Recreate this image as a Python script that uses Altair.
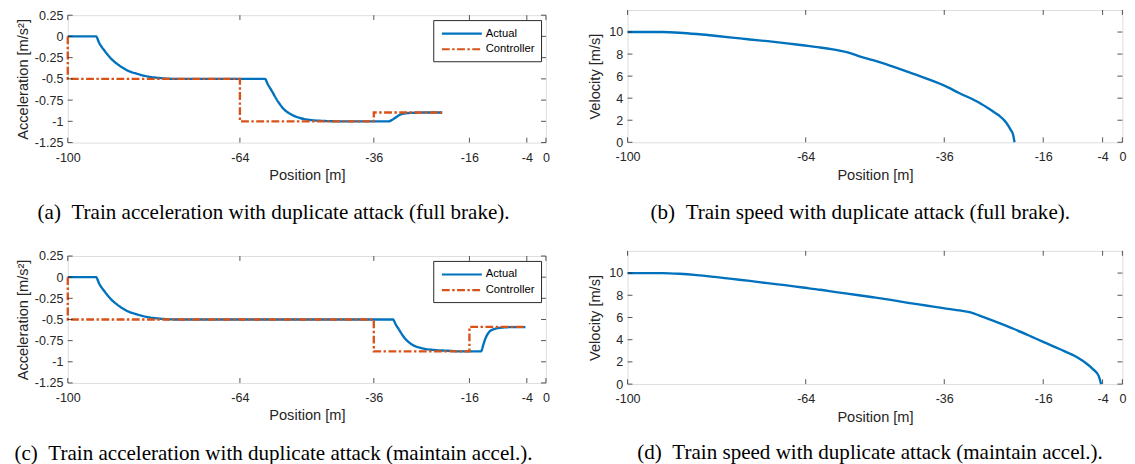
import altair as alt
import pandas as pd

FONT = "Liberation Sans"
SERIF = "Liberation Serif"
BLUE = "#0072BD"
ORANGE = "#D95319"
AX = "#262626"

SERIES = ["Actual", "Controller"]
X_TICKS = [-100, -64, -36, -16, -4, 0]
ACC_TICKS = [-1.25, -1, -0.75, -0.5, -0.25, 0, 0.25]
VEL_TICKS = [0, 2, 4, 6, 8, 10]

# (a) full brake - acceleration
A_ACT_X = [-100, -94.1, -93.4, -92.35, -90.98, -89.28, -87.56, -85.51, -83.46, -80.74,
           -77.32, -72, -58.75, -58.2, -57.5, -56.1, -54.8, -53.4, -51.4, -49.3, -46.6,
           -43, -32.93, -32.24, -31.56, -30.2, -28.1, -25, -21.7]
A_ACT_Y = [0, 0, -0.08, -0.165, -0.26, -0.34, -0.40, -0.44, -0.47, -0.49,
           -0.50, -0.50, -0.50, -0.56, -0.626, -0.761, -0.857, -0.915, -0.961, -0.984, -0.995,
           -1.0, -1.0, -0.985, -0.96, -0.915, -0.90, -0.896, -0.896]
A_CTL_X = [-100, -100, -64, -64, -36, -36, -21.7]
A_CTL_Y = [0, -0.5, -0.5, -1.0, -1.0, -0.896, -0.896]

# (b) full brake - velocity
B_VEL_X = [-100, -93, -89.5, -86, -82.4, -78.9, -75.3, -71.7, -68.2, -64.6, -61.1, -58.5,
           -57.4, -55.5, -52.8, -50.4, -46.5, -43.3, -39.7, -36.2, -33, -29, -26.5, -25,
           -23.5, -22.6, -22.1, -21.8]
B_VEL_Y = [10, 10, 9.94, 9.82, 9.66, 9.5, 9.32, 9.17, 9.0, 8.8, 8.6, 8.42,
           8.33, 8.15, 7.75, 7.45, 6.88, 6.38, 5.8, 5.18, 4.47, 3.6, 2.9, 2.45,
           1.8, 1.15, 0.7, 0]

# (c) maintain accel - acceleration
C_ACT_X = [-100, -94.1, -93.4, -92.35, -90.98, -89.28, -87.56, -85.51, -83.46, -80.74,
           -77.32, -72, -32.0, -31.4, -30.88, -29.51, -28.13, -26.09, -23.36, -20.63, -18,
           -13.6, -13.1, -12.77, -12.1, -11.07, -9.02, -7, -4.3]
C_ACT_Y = [0, 0, -0.08, -0.165, -0.26, -0.34, -0.40, -0.44, -0.47, -0.49,
           -0.50, -0.50, -0.50, -0.56, -0.606, -0.722, -0.792, -0.838, -0.861, -0.869, -0.877,
           -0.877, -0.80, -0.742, -0.664, -0.618, -0.595, -0.59, -0.59]
C_CTL_X = [-100, -100, -36, -36, -16, -16, -4.3]
C_CTL_Y = [0, -0.5, -0.5, -0.877, -0.877, -0.587, -0.587]

# (d) maintain accel - velocity
D_VEL_X = [-100, -93, -89.5, -86, -82.4, -78.9, -75.3, -71.7, -68.2, -64.6, -61.1, -57.5,
           -54.0, -50.4, -46.8, -43.3, -39.7, -36.2, -32.6, -30.5, -29.0, -25.5, -21.9,
           -18.4, -15.9, -12.7, -9.8, -7.7, -5.9, -4.8, -4.3]
D_VEL_Y = [10, 10, 9.94, 9.82, 9.65, 9.47, 9.29, 9.09, 8.91, 8.70, 8.50, 8.26,
           8.05, 7.82, 7.58, 7.32, 7.08, 6.84, 6.61, 6.43, 6.19, 5.60, 4.96,
           4.28, 3.78, 3.16, 2.57, 2.0, 1.33, 0.74, 0]

CAP_A = "(a)\u2002Train acceleration with duplicate attack (full brake)."
CAP_B = "(b)\u2002Train speed with duplicate attack (full brake)."
CAP_C = "(c)\u2002Train acceleration with duplicate attack (maintain accel.)."
CAP_D = "(d)\u2002Train speed with duplicate attack (maintain accel.)."

LABEL_FS = 12.8
TITLE_FS = 14.9


def x_enc():
    return alt.X("x:Q", scale=alt.Scale(domain=[-100, 0], nice=False, zero=False),
                 axis=alt.Axis(values=X_TICKS, tickCount=50, title="Position [m]",
                               labelExpr="'' + datum.value", grid=False, ticks=False,
                               domain=False, labelPadding=9, titlePadding=4,
                               labelFlush=False, labelOverlap=False,
                               labelFont=FONT, labelFontSize=LABEL_FS, labelColor=AX,
                               titleFont=FONT, titleFontSize=TITLE_FS, titleColor=AX,
                               titleFontWeight="normal"))


def y_enc(domain, ticks, title, tpad):
    return alt.Y("y:Q", scale=alt.Scale(domain=domain, nice=False, zero=False),
                 axis=alt.Axis(values=ticks, tickCount=50, title=title,
                               labelExpr="'' + datum.value", grid=False, ticks=False,
                               domain=False, labelPadding=5, titlePadding=tpad,
                               labelFlush=False, labelOverlap=False,
                               labelFont=FONT, labelFontSize=LABEL_FS, labelColor=AX,
                               titleFont=FONT, titleFontSize=TITLE_FS, titleColor=AX,
                               titleFontWeight="normal"))


def inner_ticks(W, H, yticks):
    xt = pd.DataFrame({"x": X_TICKS})
    yt = pd.DataFrame({"y": yticks})
    st = dict(color=AX, strokeWidth=0.8)
    return [
        alt.Chart(xt).mark_rule(**st).encode(x="x:Q", y=alt.value(H), y2=alt.value(H - 5)),
        alt.Chart(xt).mark_rule(**st).encode(x="x:Q", y=alt.value(0), y2=alt.value(5)),
        alt.Chart(yt).mark_rule(**st).encode(y="y:Q", x=alt.value(0), x2=alt.value(5)),
        alt.Chart(yt).mark_rule(**st).encode(y="y:Q", x=alt.value(W), x2=alt.value(W - 5)),
    ]


def caption(text, dx, offset):
    return alt.TitleParams(text=text, orient="bottom", anchor="middle", frame="group",
                           dx=dx, offset=offset, font=SERIF, fontSize=21.5,
                           fontWeight="normal", color="black")


LEG = alt.Legend(title=None, orient="top-right", offset=5,
                 symbolType="M-3.4,0L3.4,0", symbolSize=144, symbolOffset=15.4,
                 symbolStrokeWidth=2.2, labelFont=FONT,
                 labelFontSize=11.5, labelColor="black", strokeColor=AX,
                 fillColor="white", padding=6.3, rowPadding=3, labelOffset=16.8,
                 cornerRadius=0)


def series_line(df, interp):
    return alt.Chart(df).mark_line(strokeWidth=2.4, interpolate=interp).encode(
        x=x_enc(),
        y=y_enc([-1.25, 0.25], ACC_TICKS, "Acceleration [m/s²]", 4),
        color=alt.Color("series:N", scale=alt.Scale(domain=SERIES, range=[BLUE, ORANGE]),
                        legend=LEG),
        strokeDash=alt.StrokeDash("series:N",
                                  scale=alt.Scale(domain=SERIES, range=[[1, 0], [8, 2.5, 2.5, 2.5]]),
                                  legend=LEG),
        order=alt.Order("i:Q"),
    )


def accel_panel(ax, ay, cx, cy, cap, W, H, dx, off):
    act = pd.DataFrame({"series": "Actual", "x": ax, "y": ay, "i": list(range(len(ax)))})
    ctl = pd.DataFrame({"series": "Controller", "x": cx, "y": cy, "i": list(range(len(cx)))})
    return alt.layer(series_line(act, "monotone"), series_line(ctl, "linear"),
                     *inner_ticks(W, H, ACC_TICKS)).properties(
        width=W, height=H, title=caption(cap, dx, off))


def vel_panel(vx, vy, cap, W, H, dx, off):
    df = pd.DataFrame({"x": vx, "y": vy, "i": list(range(len(vx)))})
    line = alt.Chart(df).mark_line(strokeWidth=2.4, color=BLUE, interpolate="monotone").encode(
        x=x_enc(),
        y=y_enc([0, 12], VEL_TICKS, "Velocity [m/s]", 6.4),
        order=alt.Order("i:Q"),
    )
    return alt.layer(line, *inner_ticks(W, H, VEL_TICKS)).properties(
        width=W, height=H, title=caption(cap, dx, off))


pa = accel_panel(A_ACT_X, A_ACT_Y, A_CTL_X, A_CTL_Y, CAP_A, 488, 130, -34, 20.7)
pc = accel_panel(C_ACT_X, C_ACT_Y, C_CTL_X, C_CTL_Y, CAP_C, 488, 129.5, -34, 20.7)
pb = vel_panel(B_VEL_X, B_VEL_Y, CAP_B, 505, 135, -15, 21)
pd_ = vel_panel(D_VEL_X, D_VEL_Y, CAP_D, 505, 136, -5, 18.3)

# invisible 1px spacer so that panel (a) sits a little lower than panel (b)
spacer = alt.Chart(pd.DataFrame({"v": [0.0]})).mark_rule(opacity=0, strokeWidth=0).encode(
    x=alt.value(0), x2=alt.value(0), y=alt.value(0), y2=alt.value(0)
).properties(width=1, height=1, view=alt.ViewBackground(stroke="transparent"))

res = dict(x="independent", y="independent", color="independent", strokeDash="independent")
top_a = alt.vconcat(spacer, pa, spacing=-3.7).resolve_scale(**res)
col1 = alt.vconcat(top_a, pc, spacing=25.1).resolve_scale(**res)
col2 = alt.vconcat(pb, pd_, spacing=25.8).resolve_scale(**res)

chart = alt.hconcat(col1, col2, spacing=36.3).resolve_scale(**res).properties(
    padding={"left": 5, "top": -4.7, "right": 0, "bottom": 0}
).configure_view(stroke=AX, strokeWidth=0.8).configure(background="white")

chart.save("out.html", embed_options={"renderer": "svg", "actions": False})
